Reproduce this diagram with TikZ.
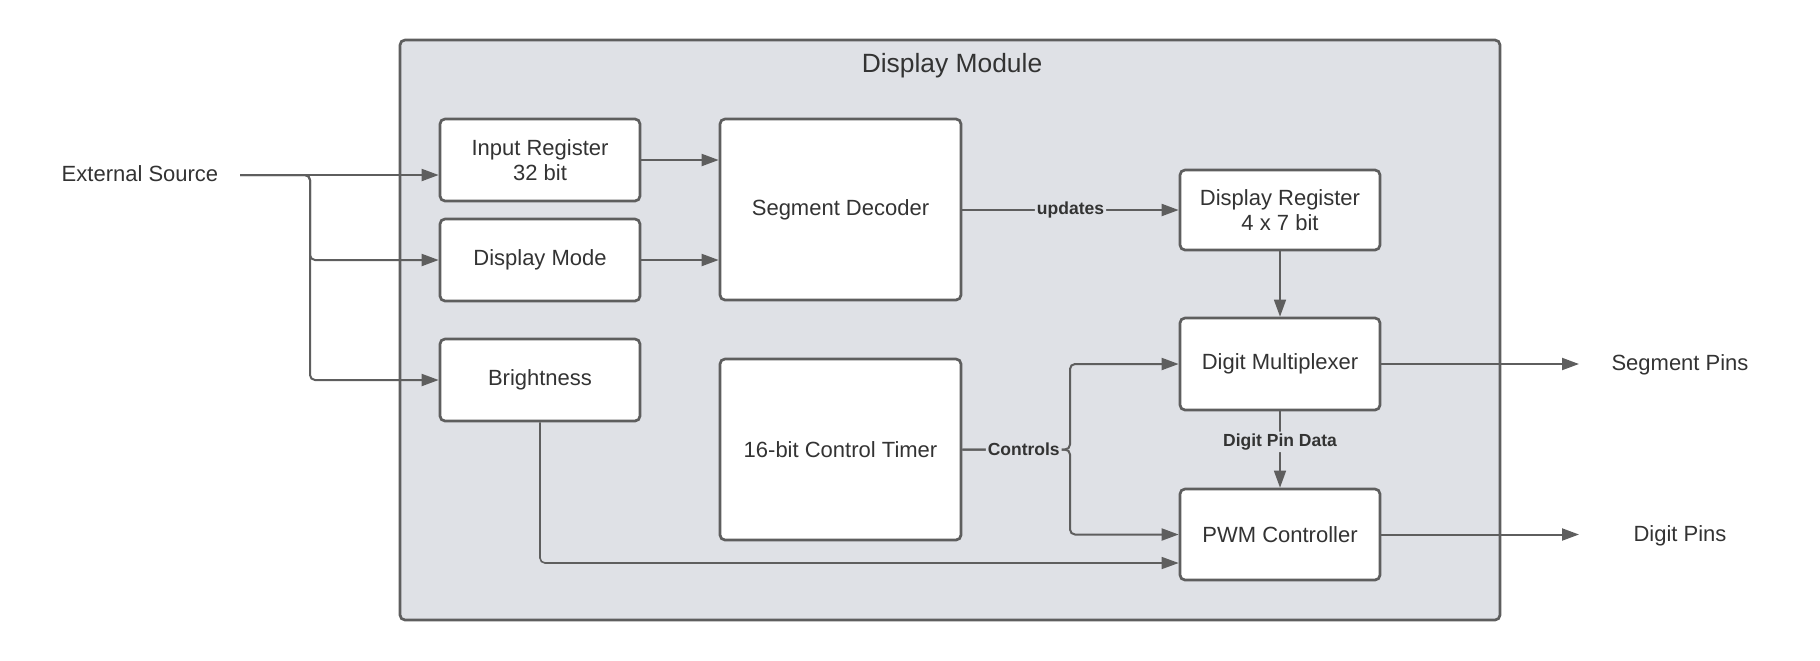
\documentclass[tikz,border=0pt]{standalone}
\usepackage{fontspec}
\setmainfont{Liberation Sans}
\usetikzlibrary{arrows.meta}
\definecolor{strokeC}{HTML}{5E5E5E}
\definecolor{modfill}{HTML}{DFE1E6}
\definecolor{txt}{HTML}{333333}
\begin{document}
\begin{tikzpicture}[x=0.5pt,y=-0.5pt,
 blk/.style={draw=strokeC, line width=1.35pt, fill=white, rounded corners=2.5pt, inner sep=0pt, align=center, font=\fontsize{11}{13.5}\selectfont, text=txt},
 conn/.style={draw=strokeC, line width=1pt, -{Triangle[length=8.5pt,width=6pt]}, rounded corners=2.5pt},
 thinconn/.style={conn, line width=0.8pt},
 lbl/.style={font=\fontsize{8.75}{10}\selectfont\bfseries, fill=modfill, inner sep=1pt, text=txt},
 plain/.style={font=\fontsize{11}{13}\selectfont, text=txt}]
\useasboundingbox (0,0) rectangle (1820,660);
% module
\node[draw=strokeC, line width=1.35pt, fill=modfill, rounded corners=2.5pt, minimum width=550pt, minimum height=290pt, inner sep=0pt] (mod) at (950,330) {};
\node[font=\fontsize{13.2}{15}\selectfont, text=txt] (title) at (952,66) {Display Module};
% blocks
\node[blk, minimum width=100pt, minimum height=41pt] (ir) at (540,160) {Input Register\\[-1pt]32 bit};
\node[blk, minimum width=100pt, minimum height=41pt] (dm) at (540,260) {Display Mode};
\node[blk, minimum width=100pt, minimum height=41pt] (br) at (540,380) {Brightness};
\node[blk, minimum width=120.5pt, minimum height=90.5pt] (sd) at (840.5,209.5) {Segment Decoder};
\node[blk, minimum width=120.5pt, minimum height=90.5pt] (ct) at (840.5,449.5) {16-bit Control Timer};
\node[blk, minimum width=100pt, minimum height=40pt] (dr) at (1280,210) {Display Register\\[-1pt]4 x 7 bit};
\node[blk, minimum width=100pt, minimum height=46pt] (dmux) at (1280,364) {Digit Multiplexer};
\node[blk, minimum width=100pt, minimum height=45.5pt] (pwm) at (1280,534.5) {PWM Controller};
% outside texts
\node[plain] (ext) at (140,174) {External Source};
\node[plain] (seg) at (1680,365) {Segment Pins};
\node[plain] (dig) at (1680,536) {Digit Pins};
\coordinate (src) at (240,175);
\coordinate (jn) at (310,175);
\coordinate (segend) at (1579,364);
\coordinate (digend) at (1579,534.5);
\coordinate (cj) at (1070,449.5);
% connectors
\draw[conn] (src) -- (src -| ir.west);
\draw[conn] (src) -- (jn) |- (dm.west);
\draw[conn] (src) -- (jn) |- (br.west);
\draw[conn] (ir.east) -- (ir.east -| sd.west);
\draw[conn] (dm.east) -- (dm.east -| sd.west);
\draw[conn] (sd.east |- dr.west) -- node[lbl] {updates} (dr.west);
\draw[thinconn] (dr.south) -- (dmux.north);
\draw[thinconn] (dmux.south) -- node[lbl, pos=0.4] {Digit Pin Data} (pwm.north);
\draw[conn] (ct.east) -- (cj) |- (pwm.west);
\draw[conn] (ct.east) -- node[lbl, pos=0.57] {Controls} (cj) |- (dmux.west);
\draw[thinconn] (br.south) |- ([yshift=-14.25pt]pwm.west);
\draw[conn] (dmux.east) -- (segend);
\draw[conn] (pwm.east) -- (digend);
\end{tikzpicture}
\end{document}
